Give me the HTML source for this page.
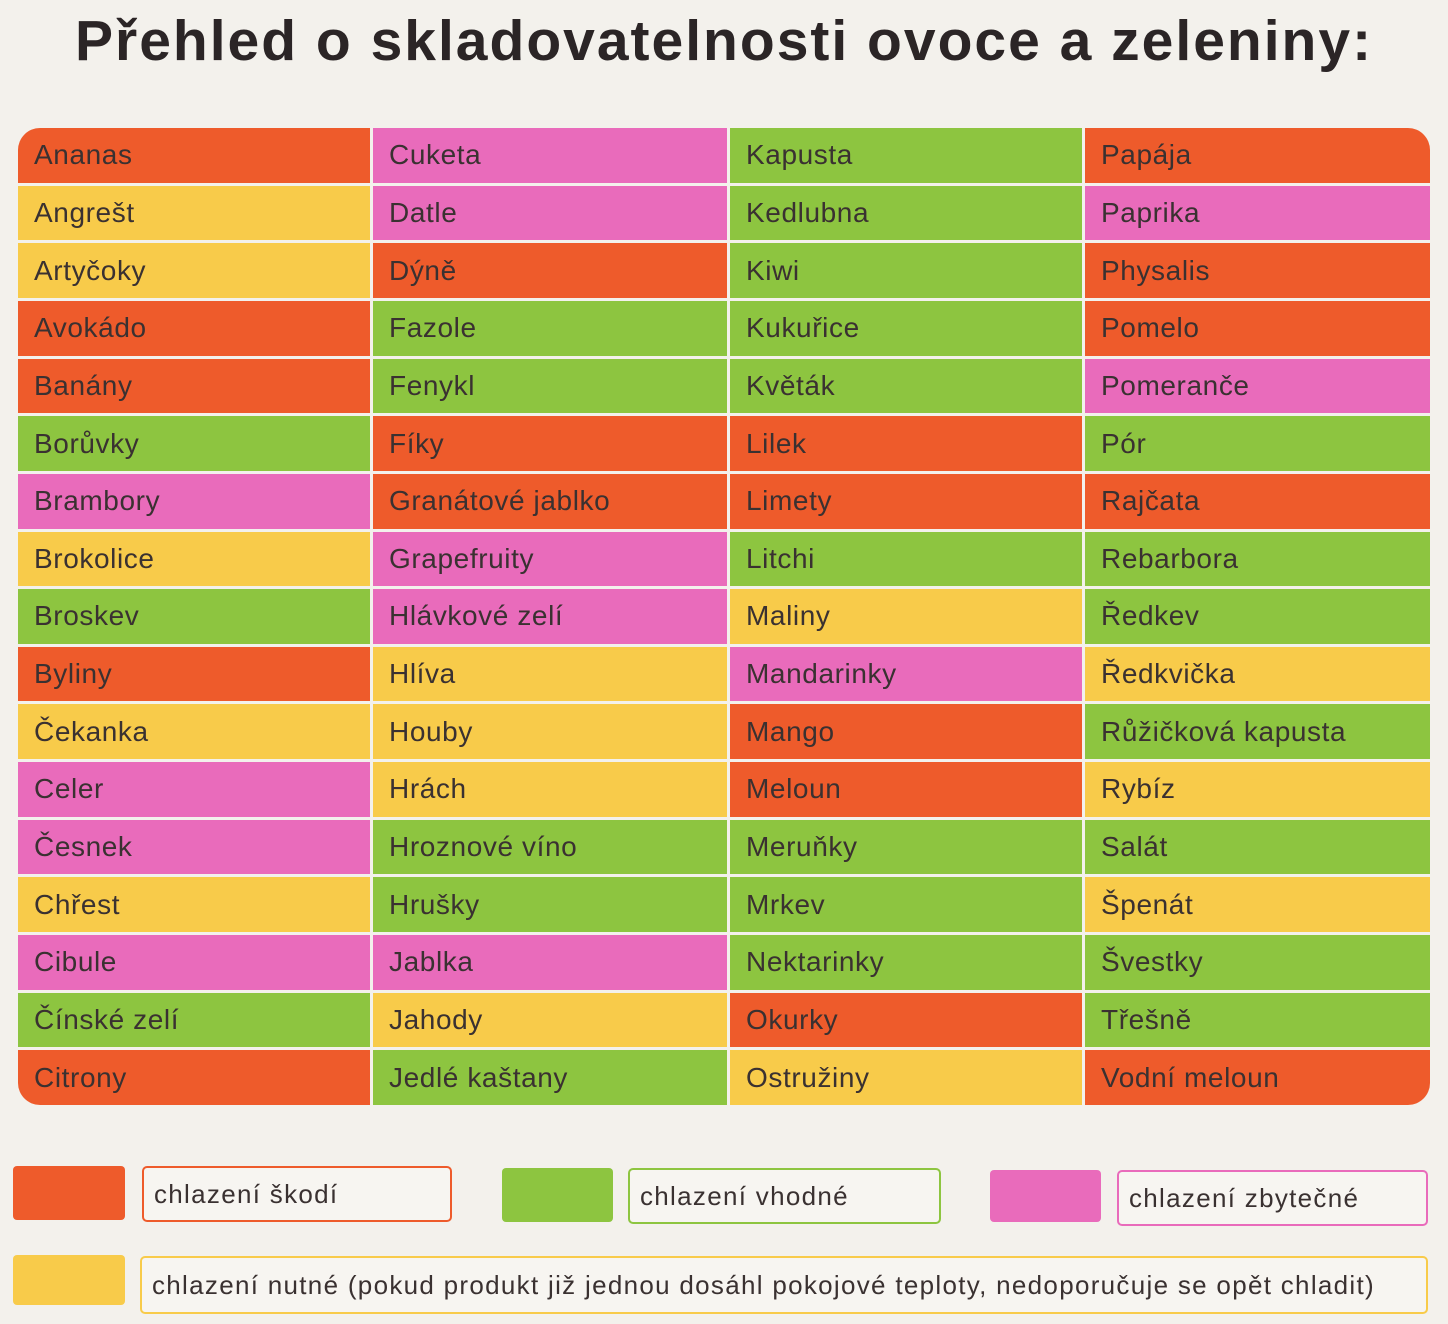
<!DOCTYPE html>
<html><head><meta charset="utf-8"><style>
body{margin:0;width:1448px;height:1324px;background:#f3f1ec;font-family:"Liberation Sans","DejaVu Sans",sans-serif;position:relative;overflow:hidden}
h1{position:absolute;left:75px;top:8px;margin:0;font-size:57px;font-weight:bold;color:#2b2526;letter-spacing:2px;white-space:nowrap}
#t{position:absolute;left:18px;top:128px;width:1412px;height:977px;border-radius:22px;overflow:hidden;background:#f3f1ec;display:grid;grid-template-columns:352px 354px 352px 348px;grid-auto-flow:column;grid-template-rows:repeat(17,1fr);gap:3px}
#t div{display:flex;align-items:center;padding-left:16px;font-size:28px;color:#3a3131;letter-spacing:0.6px}
.O{background:#ee5b2b}.Y{background:#f8cb4a}.G{background:#8dc540}.P{background:#e96bbb}
.b{position:absolute;border-radius:4px}
.l{position:absolute;border:2px solid;border-radius:5px;background:#f7f5f1;font-size:26px;letter-spacing:1.3px;color:#3a3131;display:flex;align-items:center;padding-left:10px;box-sizing:border-box;white-space:nowrap}
</style></head><body>
<h1>Přehled o skladovatelnosti ovoce a zeleniny:</h1>
<div id="t">
<div class="O">Ananas</div><div class="Y">Angrešt</div><div class="Y">Artyčoky</div><div class="O">Avokádo</div><div class="O">Banány</div><div class="G">Borůvky</div><div class="P">Brambory</div><div class="Y">Brokolice</div><div class="G">Broskev</div><div class="O">Byliny</div><div class="Y">Čekanka</div><div class="P">Celer</div><div class="P">Česnek</div><div class="Y">Chřest</div><div class="P">Cibule</div><div class="G">Čínské zelí</div><div class="O">Citrony</div>
<div class="P">Cuketa</div><div class="P">Datle</div><div class="O">Dýně</div><div class="G">Fazole</div><div class="G">Fenykl</div><div class="O">Fíky</div><div class="O">Granátové jablko</div><div class="P">Grapefruity</div><div class="P">Hlávkové zelí</div><div class="Y">Hlíva</div><div class="Y">Houby</div><div class="Y">Hrách</div><div class="G">Hroznové víno</div><div class="G">Hrušky</div><div class="P">Jablka</div><div class="Y">Jahody</div><div class="G">Jedlé kaštany</div>
<div class="G">Kapusta</div><div class="G">Kedlubna</div><div class="G">Kiwi</div><div class="G">Kukuřice</div><div class="G">Květák</div><div class="O">Lilek</div><div class="O">Limety</div><div class="G">Litchi</div><div class="Y">Maliny</div><div class="P">Mandarinky</div><div class="O">Mango</div><div class="O">Meloun</div><div class="G">Meruňky</div><div class="G">Mrkev</div><div class="G">Nektarinky</div><div class="O">Okurky</div><div class="Y">Ostružiny</div>
<div class="O">Papája</div><div class="P">Paprika</div><div class="O">Physalis</div><div class="O">Pomelo</div><div class="P">Pomeranče</div><div class="G">Pór</div><div class="O">Rajčata</div><div class="G">Rebarbora</div><div class="G">Ředkev</div><div class="Y">Ředkvička</div><div class="G">Růžičková kapusta</div><div class="Y">Rybíz</div><div class="G">Salát</div><div class="Y">Špenát</div><div class="G">Švestky</div><div class="G">Třešně</div><div class="O">Vodní meloun</div>
</div>
<div class="b O" style="left:13px;top:1166px;width:112px;height:54px"></div>
<div class="l" style="left:142px;top:1166px;width:310px;height:56px;border-color:#ee5b2b">chlazení škodí</div>
<div class="b G" style="left:502px;top:1168px;width:111px;height:54px"></div>
<div class="l" style="left:628px;top:1168px;width:313px;height:56px;border-color:#8dc540">chlazení vhodné</div>
<div class="b P" style="left:990px;top:1170px;width:111px;height:52px"></div>
<div class="l" style="left:1117px;top:1170px;width:311px;height:56px;border-color:#e96bbb">chlazení zbytečné</div>
<div class="b Y" style="left:13px;top:1255px;width:112px;height:50px"></div>
<div class="l" style="left:140px;top:1256px;width:1288px;height:58px;border-color:#f8cb4a">chlazení nutné (pokud produkt již jednou dosáhl pokojové teploty, nedoporučuje se opět chladit)</div>
</body></html>
